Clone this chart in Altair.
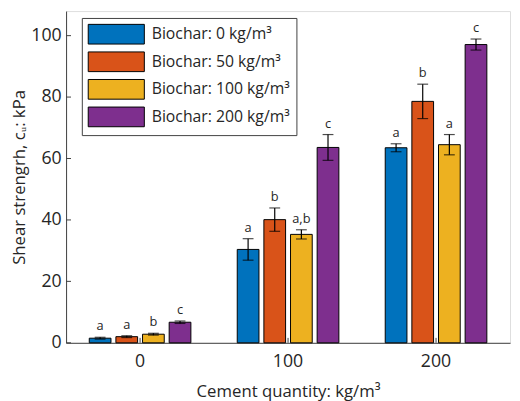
import altair as alt
import pandas as pd

cement = ["0", "100", "200"]
biochar = ["Biochar: 0 kg/m³", "Biochar: 50 kg/m³", "Biochar: 100 kg/m³", "Biochar: 200 kg/m³"]
colors = ["#0072BD", "#D95319", "#EDB120", "#7E2F8E"]

mean_c0 = [1.5, 2.0, 2.8, 6.7]
mean_c100 = [30.4, 40.1, 35.3, 63.6]
mean_c200 = [63.5, 78.6, 64.5, 97.1]
err_c0 = [0.3, 0.3, 0.3, 0.4]
err_c100 = [3.5, 3.8, 1.5, 4.2]
err_c200 = [1.3, 5.6, 3.3, 1.8]
let_c0 = ["a", "a", "b", "c"]
let_c100 = ["a", "b", "a,b", "c"]
let_c200 = ["a", "b", "a", "c"]

y_ticks = [0, 20, 40, 60, 80, 100]

rows = []
for c, means, errs, lets in zip(cement, [mean_c0, mean_c100, mean_c200],
                                [err_c0, err_c100, err_c200], [let_c0, let_c100, let_c200]):
    for b, m, e, l in zip(biochar, means, errs, lets):
        rows.append({"cement": c, "biochar": b, "mean": m, "lo": m - e, "hi": m + e, "letter": l})
df = pd.DataFrame(rows)

FONT = "Open Sans"
TXT = "#262626"
AX = "#404040"

X = alt.X("cement:N", sort=cement,
          scale=alt.Scale(paddingInner=0.28, paddingOuter=0.14),
          axis=alt.Axis(title="Cement quantity: kg/m³", labelAngle=0, tickSize=0,
                        labelPadding=10, titlePadding=14, labelFontSize=18, titleFontSize=17,
                        domainColor=AX, labelColor=TXT, titleColor=TXT, titleFontWeight="normal"))
XO = alt.XOffset("biochar:N", sort=biochar,
                 scale=alt.Scale(paddingInner=0.185, paddingOuter=0.0925))
yscale = alt.Scale(domain=[0, 108], nice=False)
yaxis = alt.Axis(title="Shear strengrh, cᵤ: kPa", values=y_ticks, tickSize=0, grid=False,
                 labelPadding=5, titlePadding=2, labelFontSize=18, titleFontSize=17,
                 domainColor=AX, labelColor=TXT, titleColor=TXT, titleFontWeight="normal")

base = alt.Chart(df)

bars = base.mark_bar(stroke="black", strokeWidth=1).encode(
    x=X, xOffset=XO,
    y=alt.Y("mean:Q", scale=yscale, axis=yaxis),
    color=alt.Color("biochar:N", sort=biochar,
                    scale=alt.Scale(domain=biochar, range=colors),
                    legend=alt.Legend(title=None, orient="none", legendX=16, legendY=7,
                                      symbolType="M-2.85,-1H2.85V1H-2.85Z", symbolSize=400,
                                      symbolOffset=18.5, labelOffset=25.5,
                                      symbolStrokeColor="black", symbolStrokeWidth=1,
                                      symbolOpacity=1,
                                      labelFontSize=16, labelColor=TXT,
                                      strokeColor=AX, fillColor="white", padding=6,
                                      rowPadding=3)),
)

rule = base.mark_rule(color="black", strokeWidth=1.2).encode(
    x=X, xOffset=XO, y=alt.Y("lo:Q", scale=yscale, axis=yaxis), y2="hi:Q")
tlo = base.mark_tick(color="black", size=11, thickness=1.2).encode(
    x=X, xOffset=XO, y=alt.Y("lo:Q", scale=yscale, axis=yaxis))
thi = base.mark_tick(color="black", size=11, thickness=1.2).encode(
    x=X, xOffset=XO, y=alt.Y("hi:Q", scale=yscale, axis=yaxis))
text = base.mark_text(fontSize=13, dy=-4, baseline="bottom", color=TXT, font=FONT).encode(
    x=X, xOffset=XO, y=alt.Y("hi:Q", scale=yscale, axis=yaxis), text="letter:N")

ytk = alt.Chart(pd.DataFrame({"v": y_ticks})).mark_rule(color=AX, strokeWidth=1).encode(
    y=alt.Y("v:Q", scale=yscale, axis=yaxis), x=alt.value(0), x2=alt.value(5))
xtk = alt.Chart(pd.DataFrame({"cement": cement})).mark_rule(color=AX, strokeWidth=1).encode(
    x=X, y=alt.value(337), y2=alt.value(332))

chart = alt.layer(bars, rule, tlo, thi, text, ytk, xtk).properties(
    width=451, height=337,
    autosize=alt.AutoSizeParams(type="none"),
    padding={"left": 59, "top": 0, "right": 2, "bottom": 56},
).configure_view(stroke=None).configure(font=FONT)

chart.save("out.html", embed_options={"renderer": "svg", "actions": False})
